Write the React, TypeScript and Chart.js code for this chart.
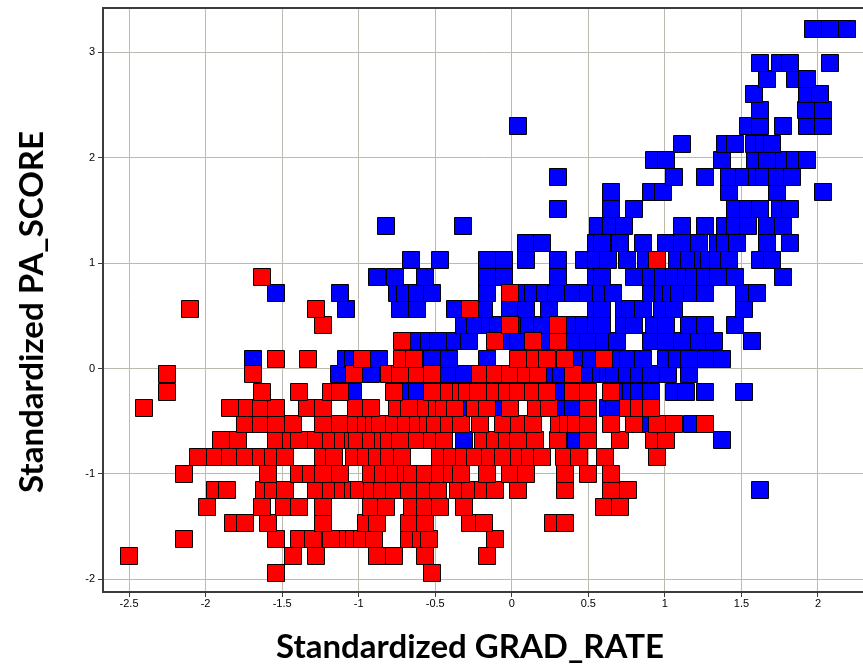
import React, { useEffect, useRef } from "react";
import { Chart, registerables } from "chart.js";

Chart.register(...registerables);

const xTickValues = [-2.5, -2, -1.5, -1, -0.5, 0, 0.5, 1, 1.5, 2];
const yTickValues = [-2, -1, 0, 1, 2, 3];
const xTitle = "Standardized GRAD_RATE";
const yTitle = "Standardized PA_SCORE";

const redRows: [number, number[]][] = [
  [-1.94, [-1.54, -0.52]],
  [-1.78, [-2.5, -1.43, -1.28, -0.88, -0.77, -0.57, -0.16]],
  [-1.62, [-2.14, -1.54, -1.39, -1.3, -1.18, -1.07, -1.03, -0.98, -0.9, -0.67, -0.59, -0.54, -0.11]],
  [-1.47, [-1.82, -1.74, -1.59, -1.23, -0.95, -0.88, -0.67, -0.57, -0.27, -0.18, 0.27, 0.35]],
  [-1.31, [-1.99, -1.63, -1.49, -1.39, -1.23, -0.92, -0.82, -0.65, -0.57, -0.47, -0.31, 0.6, 0.71]],
  [-1.15, [-1.94, -1.86, -1.62, -1.56, -1.48, -1.28, -1.18, -1.1, -1.04, -1.0, -0.91, -0.85, -0.77, -0.67, -0.57, -0.48, -0.35, -0.27, -0.19, -0.11, 0.04, 0.35, 0.65, 0.76]],
  [-1.0, [-2.14, -1.59, -1.39, -1.31, -1.23, -1.12, -0.92, -0.84, -0.77, -0.69, -0.65, -0.57, -0.47, -0.39, -0.33, -0.16, -0.01, 0.09, 0.35, 0.5, 0.65]],
  [-0.835, [-2.05, -1.94, -1.84, -1.74, -1.64, -1.56, -1.48, -1.23, -1.16, -1.03, -0.95, -0.88, -0.8, -0.72, -0.47, -0.39, -0.31, -0.24, -0.14, -0.06, 0.05, 0.12, 0.2, 0.34, 0.44, 0.61, 0.95]],
  [-0.68, [-1.9, -1.79, -1.54, -1.44, -1.39, -1.28, -1.18, -1.1, -1.04, -1.01, -0.92, -0.84, -0.8, -0.73, -0.62, -0.52, -0.44, -0.19, -0.11, -0.03, 0.04, 0.15, 0.3, 0.5, 0.71, 0.93, 1.01]],
  [-0.53, [-1.74, -1.64, -1.54, -1.43, -1.23, -1.12, -1.02, -0.95, -0.9, -0.86, -0.77, -0.69, -0.61, -0.55, -0.5, -0.41, -0.33, -0.21, -0.06, 0.05, 0.14, 0.31, 0.37, 0.42, 0.5, 0.65, 0.8, 0.95, 1.06, 1.26]],
  [-0.37, [-2.4, -1.84, -1.73, -1.64, -1.54, -1.34, -1.23, -1.02, -0.92, -0.75, -0.67, -0.56, -0.49, -0.44, -0.37, -0.24, -0.16, -0.01, 0.16, 0.24, 0.5, 0.76, 0.83, 0.91]],
  [-0.22, [-2.25, -1.63, -1.39, -1.18, -1.12, -0.77, -0.52, -0.41, -0.33, -0.29, -0.22, -0.11, -0.03, 0.04, 0.14, 0.23, 0.4, 0.5, 0.65]],
  [-0.055, [-2.25, -1.69, -1.03, -0.8, -0.73, -0.62, -0.52, -0.21, -0.11, -0.01, 0.09, 0.17, 0.4]],
  [0.095, [-1.54, -1.33, -0.98, -0.72, -0.64, 0.04, 0.15, 0.23, 0.35, 0.6]],
  [0.26, [-0.72, -0.11, 0.14, 0.3]],
  [0.41, [-1.23, -0.01, 0.3]],
  [0.56, [-2.1, -1.28, -0.27]],
  [0.72, [-0.01]],
  [0.87, [-1.63]],
  [1.03, [0.95]],
];

const blueRows: [number, number[]][] = [
  [-1.15, [1.62]],
  [-0.68, [-0.31, 0.42, 1.37]],
  [-0.53, [0.88, 1.18]],
  [-0.37, [-0.29, -0.08, 0.33, 0.4, 0.63, 0.67]],
  [-0.22, [-1.04, -0.69, -0.62, 0.3, 0.74, 0.78, 0.83, 0.91, 1.06, 1.14, 1.26, 1.52]],
  [-0.055, [-1.13, -0.92, -0.41, -0.31, 0.25, 0.32, 0.5, 0.58, 0.63, 0.67, 0.75, 0.83, 0.91, 1.02, 1.16]],
  [0.095, [-1.69, -1.08, -1.04, -0.87, -0.59, -0.52, -0.41, -0.16, 0.43, 0.52, 0.69, 0.76, 0.86, 1.01, 1.08, 1.16, 1.27, 1.37]],
  [0.26, [-0.61, -0.54, -0.48, -0.37, -0.28, -0.03, 0.04, 0.22, 0.41, 0.5, 0.6, 0.69, 0.91, 1.01, 1.11, 1.22, 1.32, 1.57]],
  [0.41, [-0.31, -0.24, -0.14, -0.09, 0.07, 0.11, 0.2, 0.41, 0.47, 0.55, 0.59, 0.73, 0.8, 0.93, 1.01, 1.16, 1.26, 1.46]],
  [0.56, [-1.08, -0.73, -0.62, -0.37, -0.18, -0.01, 0.09, 0.24, 0.55, 0.59, 0.73, 0.77, 0.86, 0.98, 1.06, 1.52]],
  [0.72, [-1.54, -1.12, -0.75, -0.7, -0.62, -0.52, -0.16, 0.07, 0.14, 0.22, 0.29, 0.4, 0.5, 0.58, 0.66, 0.91, 0.99, 1.04, 1.09, 1.18, 1.26, 1.52, 1.6]],
  [0.87, [-0.88, -0.76, -0.57, -0.16, -0.05, 0.3, 0.55, 0.59, 0.8, 0.91, 0.99, 1.06, 1.14, 1.19, 1.26, 1.35, 1.46, 1.77]],
  [1.03, [-0.66, -0.47, -0.16, -0.05, 0.09, 0.3, 0.47, 0.55, 0.63, 0.75, 0.88, 1.08, 1.16, 1.25, 1.29, 1.35, 1.42, 1.62, 1.7]],
  [1.19, [0.09, 0.2, 0.55, 0.59, 0.71, 0.86, 1.01, 1.11, 1.22, 1.35, 1.39, 1.47, 1.67, 1.82]],
  [1.35, [-0.82, -0.32, 0.56, 0.65, 0.73, 1.11, 1.26, 1.39, 1.46, 1.54, 1.67, 1.77]],
  [1.51, [0.3, 0.65, 0.8, 1.46, 1.54, 1.62, 1.75, 1.82]],
  [1.67, [0.65, 0.91, 0.99, 1.42, 1.73, 2.03]],
  [1.82, [0.3, 1.06, 1.26, 1.42, 1.52, 1.6, 1.65, 1.73, 1.83]],
  [1.98, [0.93, 1.01, 1.37, 1.59, 1.67, 1.78, 1.85, 1.93]],
  [2.13, [1.11, 1.39, 1.46, 1.58, 1.65, 1.7]],
  [2.3, [0.04, 1.54, 1.62, 1.77, 1.93, 2.03]],
  [2.45, [1.62, 1.92, 2.03]],
  [2.6, [1.58, 1.93, 2.01]],
  [2.75, [1.67, 1.85, 1.93]],
  [2.9, [1.62, 1.75, 1.82, 2.08]],
  [3.22, [1.97, 2.08, 2.19]],
];

const toPoints = (rows: [number, number[]][]) =>
  rows.flatMap(([y, xs]) => xs.map((x) => ({ x, y })));

const titleFontCss = "bold 33px 'Lato', sans-serif";

const chrome = {
  id: "chrome",
  // Snap the markers' scale-computed positions to whole pixels so their outlines stay crisp.
  afterDatasetsUpdate(chart: any) {
    chart.data.datasets.forEach((_: any, i: number) => {
      chart.getDatasetMeta(i).data.forEach((p: any) => {
        p.x = Math.round(p.x);
        p.y = Math.round(p.y);
      });
    });
  },
  afterDraw(chart: any) {
    const { ctx, chartArea } = chart;
    ctx.save();
    ctx.strokeStyle = "#3c3c3c";
    ctx.lineWidth = 2;
    ctx.beginPath();
    ctx.moveTo(chartArea.left, Math.round(chartArea.top));
    ctx.lineTo(chartArea.right, Math.round(chartArea.top));
    ctx.stroke();
    ctx.fillStyle = "#000";
    ctx.font = titleFontCss;
    ctx.textAlign = "center";
    ctx.textBaseline = "middle";
    ctx.fillText(xTitle, 470, 652);
    ctx.translate(32, 317);
    ctx.rotate(-Math.PI / 2);
    ctx.fillText(yTitle, 0, 0);
    ctx.restore();
  },
};

const marker = (color: string, order: number) => ({
  backgroundColor: color,
  borderColor: "#000000",
  borderWidth: 1,
  pointStyle: "rect" as const,
  pointRadius: 12.02,
  pointHoverRadius: 12.02,
  showLine: false,
  order,
});

const gridColor = "#bdbab2";
const tickFont = { family: "'Liberation Sans', Arial, sans-serif", size: 11 };
const noPadding = (s: any) => {
  s.paddingLeft = 0;
  s.paddingRight = 0;
  s.paddingTop = 0;
  s.paddingBottom = 0;
};

export default function App() {
  const ref = useRef<HTMLCanvasElement>(null);
  useEffect(() => {
    const chart = new Chart(ref.current!, {
      type: "scatter",
      data: {
        datasets: [
          { label: "low", data: toPoints(redRows), ...marker("#ff0000", 1) },
          { label: "high", data: toPoints(blueRows), ...marker("#0000ff", 2) },
        ],
      },
      plugins: [chrome],
      options: {
        animation: false,
        responsive: false,
        layout: { padding: 0 },
        plugins: { legend: { display: false }, tooltip: { enabled: false } },
        scales: {
          x: {
            type: "linear",
            min: -2.67,
            max: 2.294,
            afterBuildTicks: (s: any) => {
              s.ticks = xTickValues.map((value) => ({ value }));
            },
            afterFit: (s: any) => {
              s.height = 78;
              noPadding(s);
            },
            grid: { color: gridColor, tickColor: "#3c3c3c", tickLength: 5, lineWidth: 1 },
            border: { color: "#3c3c3c", width: 2 },
            ticks: { color: "#000", font: tickFont, padding: 0, maxRotation: 0, autoSkip: false, callback: (v: any) => String(v) },
          },
          y: {
            type: "linear",
            min: -2.12,
            max: 3.42,
            afterBuildTicks: (s: any) => {
              s.ticks = yTickValues.map((value) => ({ value }));
            },
            afterFit: (s: any) => {
              s.width = 103;
              noPadding(s);
            },
            grid: { color: gridColor, tickColor: "#3c3c3c", tickLength: 5, lineWidth: 1 },
            border: { color: "#3c3c3c", width: 2 },
            ticks: { color: "#000", font: tickFont, padding: 3, autoSkip: false, callback: (v: any) => String(v) },
          },
        },
      },
    });
    return () => chart.destroy();
  }, []);
  return (
    <div style={{ position: "absolute", left: 0, top: 0, width: 863, height: 670, overflow: "hidden", background: "#fff" }}>
      <canvas ref={ref} width={876} height={675} style={{ display: "block", position: "absolute", left: 0, top: -5 }} />
    </div>
  );
}
